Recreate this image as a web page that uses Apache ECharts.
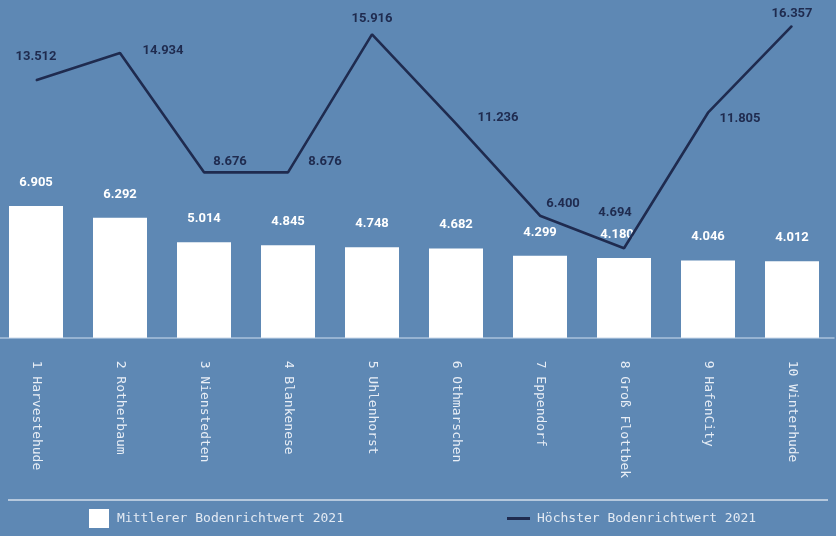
<!DOCTYPE html>
<html>
<head>
<meta charset="utf-8">
<script src="https://cdn.jsdelivr.net/npm/echarts@6/dist/echarts.min.js"></script>
<style>
html,body{margin:0;padding:0;background:#5e88b4;}
#chart{width:836px;height:536px;}
</style>
</head>
<body>
<div id="chart"></div>
<script>
const categories = ['1 Harvestehude','2 Rotherbaum','3 Nienstedten','4 Blankenese','5 Uhlenhorst','6 Othmarschen','7 Eppendorf','8 Groß Flottbek','9 HafenCity','10 Winterhude'];
const meanValues = [6.905, 6.292, 5.014, 4.845, 4.748, 4.682, 4.299, 4.180, 4.046, 4.012];
const maxValues = [13.512, 14.934, 8.676, 8.676, 15.916, 11.236, 6.400, 4.694, 11.805, 16.357];
const seriesNames = ['Mittlerer Bodenrichtwert 2021', 'Höchster Bodenrichtwert 2021'];

const lineLabelOffsets = [[0,-23],[43,-2],[26,-11],[37,-11],[0,-16],[42,-6],[23,-12],[-9,-35],[32,6],[0,-12]];
const barLabelOffsets = [[0,0],[0,0],[0,0],[0,0],[0,0],[0,0],[0,0],[-7,0],[0,0],[0,0]];

function fmt(v){ return v.toFixed(3); }

const chart = echarts.init(document.getElementById('chart'));
const mono = 'DejaVu Sans Mono';
chart.setOption({
  backgroundColor: '#5e88b4',
  animation: false,
  grid: { left: -6, right: 2, top: 13.7, bottom: 198.3, containLabel: false, outerBoundsMode: 'none' },
  xAxis: {
    type: 'category',
    data: categories,
    axisLine: { show: true, lineStyle: { color: '#a9c1dc', width: 1.5 } },
    axisTick: { show: false },
    axisLabel: { rotate: -90, margin: 23, color: '#e8eef6', fontFamily: mono, fontSize: 13, interval: 0 }
  },
  yAxis: {
    type: 'value', min: 0, max: 17,
    show: false,
    splitLine: { show: false }
  },
  legend: [
    {
      data: [seriesNames[0]], left: 89, top: 509, padding: 0, itemWidth: 20, itemHeight: 19, icon: 'rect',
      textStyle: { color: '#e3eaf3', fontFamily: mono, fontSize: 13, lineHeight: 15, padding: [0,0,0,3] }
    },
    {
      data: [seriesNames[1]], left: 507, top: 511, padding: 0, itemWidth: 23, itemHeight: 3, icon: 'rect',
      textStyle: { color: '#e3eaf3', fontFamily: mono, fontSize: 13, lineHeight: 15, padding: [0,0,0,2] }
    }
  ],
  graphic: [{
    type: 'line', shape: { x1: 8, y1: 500, x2: 828, y2: 500 },
    style: { stroke: '#d3deeb', lineWidth: 1.5 }
  }],
  series: [
    {
      name: seriesNames[0], type: 'bar', barWidth: 54,
      data: meanValues.map((v, i) => ({ value: v, label: { offset: barLabelOffsets[i] } })),
      itemStyle: { color: '#ffffff' },
      label: { show: true, position: 'top', distance: 17, color: '#ffffff', fontFamily: 'Roboto', fontWeight: 'bold', fontSize: 13, formatter: p => fmt(p.value) }
    },
    {
      name: seriesNames[1], type: 'line', symbol: 'circle', symbolSize: 1,
      itemStyle: { color: '#1f2b4f' },
      lineStyle: { color: '#1f2b4f', width: 2.6 },
      data: maxValues.map((v, i) => ({
        value: v,
        label: { offset: lineLabelOffsets[i] }
      })),
      label: { show: true, position: 'inside', color: '#1f2b4f', fontFamily: 'Roboto', fontWeight: 'bold', fontSize: 13, formatter: p => fmt(p.value) },
      z: 3
    }
  ]
});
</script>
</body>
</html>
